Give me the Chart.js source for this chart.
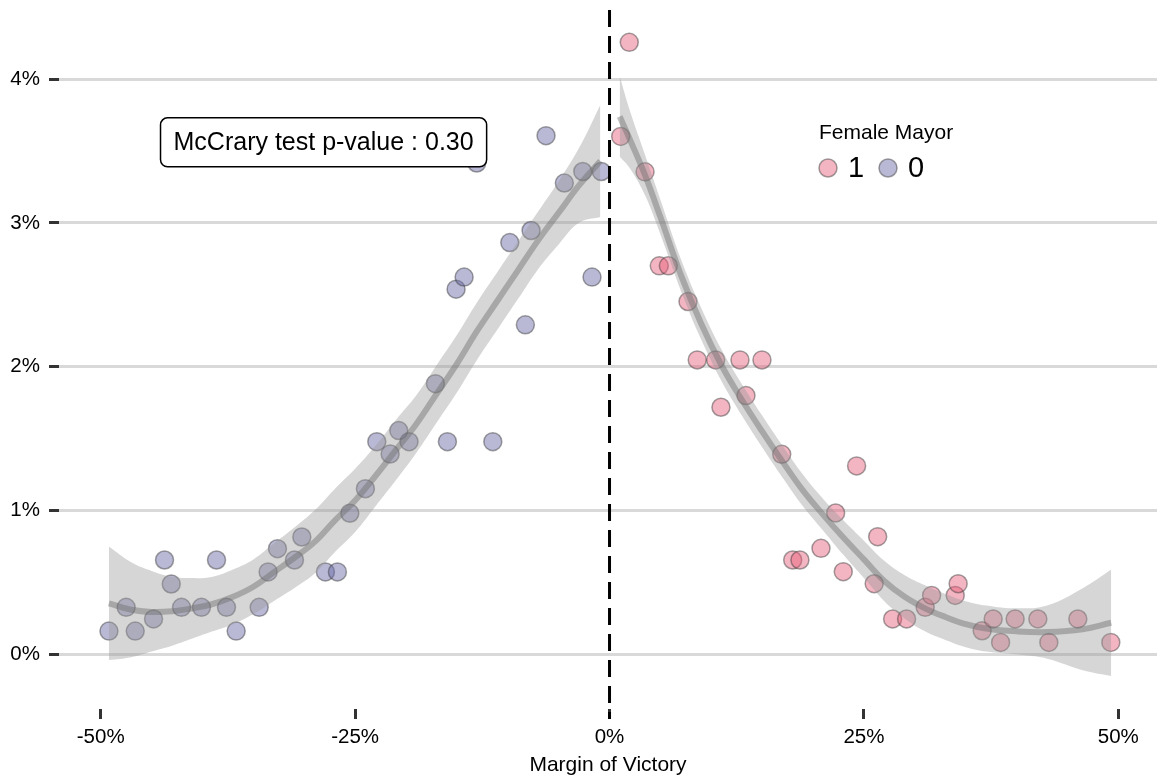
<!DOCTYPE html>
<html>
<head>
<meta charset="utf-8">
<script src="https://cdn.jsdelivr.net/npm/chart.js@4.4.1/dist/chart.umd.min.js"></script>
<style>
  html, body { margin: 0; padding: 0; background: #fff; }
  #wrap { width: 1157px; height: 780px; }
</style>
</head>
<body>
<div id="wrap"><canvas id="chart1"></canvas></div>
<script>
// Density of municipalities by margin of victory

// female mayor = 1 (right of the cutoff)
const femaleX = [1.94, 1.10, 3.49, 4.89, 5.78, 7.71, 8.62, 10.43, 12.82, 14.98, 10.95, 13.41, 16.92, 24.28, 22.22,
    26.35, 20.78, 18.00, 18.71, 22.97, 26.01, 27.82, 29.19, 31.02, 31.65, 33.97, 34.26, 36.62, 37.70, 38.43,
    39.86, 42.09, 43.17, 46.02, 49.26];
const femaleY = [4.255, 3.601, 3.355, 2.701, 2.701, 2.453, 2.047, 2.047, 2.047, 2.047, 1.718, 1.799, 1.391, 1.310, 0.983,
    0.818, 0.737, 0.656, 0.656, 0.575, 0.491, 0.246, 0.246, 0.327, 0.410, 0.410, 0.491, 0.164, 0.246, 0.083,
    0.246, 0.246, 0.083, 0.246, 0.083];

// female mayor = 0 (left of the cutoff)
const maleX = [-49.19, -47.50, -46.61, -44.81, -43.73, -43.07, -42.06, -40.10, -38.62, -37.64, -36.69, -34.43, -33.55,
    -32.63, -30.96, -30.24, -27.92, -26.74, -25.52, -23.99, -22.87, -21.56, -20.71, -19.70, -15.93, -11.47, -17.11,
    -15.08, -14.29, -8.27, -9.80, -7.71, -1.72, -6.24, -4.44, -2.63, -0.81, -13.05];
const maleY = [0.162, 0.327, 0.162, 0.246, 0.656, 0.489, 0.327, 0.327, 0.656, 0.327, 0.162, 0.327, 0.573,
    0.735, 0.656, 0.816, 0.573, 0.573, 0.981, 1.152, 1.479, 1.393, 1.556, 1.479, 1.479, 1.479, 1.882,
    2.539, 2.623, 2.291, 2.863, 2.947, 2.623, 3.606, 3.277, 3.357, 3.357, 3.416];

// smoothed fit and confidence band, left side
const fitLeftX  = [-49.2, -47, -45, -43, -41, -39, -37, -35, -33, -31, -29, -27, -25, -23, -21, -19, -17, -15, -13, -11, -9, -7, -5, -3, -0.9];
const fitLeftY  = [0.355, 0.31, 0.295, 0.30, 0.32, 0.35, 0.40, 0.47, 0.57, 0.67, 0.78, 0.93, 1.07, 1.24, 1.42, 1.60, 1.81, 2.02, 2.25, 2.46, 2.67, 2.88, 3.07, 3.26, 3.43];
const fitLeftHi = [0.75, 0.64, 0.58, 0.54, 0.53, 0.54, 0.59, 0.66, 0.77, 0.88, 1.00, 1.15, 1.29, 1.45, 1.63, 1.80, 2.01, 2.22, 2.45, 2.66, 2.87, 3.08, 3.29, 3.52, 3.82];
const fitLeftLo = [-0.04, -0.02, 0.02, 0.06, 0.11, 0.16, 0.21, 0.28, 0.37, 0.46, 0.56, 0.71, 0.85, 1.03, 1.21, 1.40, 1.61, 1.82, 2.05, 2.26, 2.47, 2.68, 2.85, 3.00, 3.04];

// smoothed fit and confidence band, right side
const fitRightX  = [1.0, 2.0, 3.5, 5, 7, 9, 11, 13, 15, 17, 19, 21, 23, 25, 27, 29, 31, 33, 35, 37, 40, 43, 46.5, 49.3];
const fitRightY  = [3.74, 3.58, 3.33, 3.04, 2.64, 2.30, 2.01, 1.77, 1.55, 1.34, 1.14, 0.97, 0.81, 0.66, 0.51, 0.40, 0.32, 0.26, 0.21, 0.18, 0.16, 0.155, 0.175, 0.22];
const fitRightHi = [4.02, 3.78, 3.47, 3.16, 2.75, 2.41, 2.12, 1.88, 1.66, 1.45, 1.25, 1.08, 0.93, 0.79, 0.65, 0.55, 0.48, 0.42, 0.37, 0.34, 0.32, 0.34, 0.46, 0.59];
const fitRightLo = [3.46, 3.38, 3.19, 2.92, 2.53, 2.19, 1.90, 1.66, 1.44, 1.23, 1.03, 0.86, 0.69, 0.53, 0.37, 0.25, 0.16, 0.10, 0.05, 0.02, 0.00, -0.03, -0.11, -0.15];

const xTicks = [-50, -25, 0, 25, 50];
const yTicks = [0, 1, 2, 3, 4];
const pValueText = 'McCrary test p-value : 0.30';

const FONT = "'Liberation Sans', Arial, sans-serif";
const pink = 'rgba(230, 90, 120, 0.45)';
const blue = 'rgba(100, 100, 165, 0.45)';
const pointEdge = 'rgba(50, 50, 50, 0.45)';
const bandFill = 'rgba(153, 153, 153, 0.4)';
const fitColor = 'rgba(110, 110, 110, 0.45)';

function pts(xs, ys) {
    return xs.map((x, i) => ({ x: x, y: ys[i] }));
}

function bandLine(xs, ys, fill) {
    return {
        type: 'line',
        data: pts(xs, ys),
        showLine: true,
        borderWidth: 0,
        borderColor: 'rgba(0,0,0,0)',
        backgroundColor: bandFill,
        pointRadius: 0,
        tension: 0.4,
        fill: fill,
        order: 2
    };
}

function fitLine(xs, ys) {
    return {
        type: 'line',
        data: pts(xs, ys),
        showLine: true,
        borderWidth: 6,
        borderColor: fitColor,
        pointRadius: 0,
        tension: 0.4,
        fill: false,
        order: 1
    };
}

// dashed cutoff, p-value box and legend
const extras = {
    id: 'extras',
    afterDatasetsDraw(chart) {
        const ctx = chart.ctx;
        const xs = chart.scales.x, ys = chart.scales.y;
        const area = chart.chartArea;

        // cutoff at 0
        const x0 = xs.getPixelForValue(0);
        ctx.save();
        ctx.strokeStyle = '#000';
        ctx.lineWidth = 3;
        ctx.setLineDash([17, 9]);
        ctx.beginPath();
        ctx.moveTo(x0, area.top);
        ctx.lineTo(x0, area.bottom + 10);
        ctx.stroke();
        ctx.restore();

        // p-value label
        const cx = xs.getPixelForValue(-28.1);
        const cy = ys.getPixelForValue(3.56);
        ctx.save();
        ctx.font = '25px ' + FONT;
        const w = ctx.measureText(pValueText).width + 26;
        const h = 49;
        const bx = cx - w / 2, by = cy - h / 2, r = 7;
        ctx.beginPath();
        ctx.moveTo(bx + r, by);
        ctx.arcTo(bx + w, by, bx + w, by + h, r);
        ctx.arcTo(bx + w, by + h, bx, by + h, r);
        ctx.arcTo(bx, by + h, bx, by, r);
        ctx.arcTo(bx, by, bx + w, by, r);
        ctx.closePath();
        ctx.fillStyle = '#fff';
        ctx.fill();
        ctx.lineWidth = 1.5;
        ctx.strokeStyle = '#000';
        ctx.stroke();
        ctx.fillStyle = '#000';
        ctx.textAlign = 'center';
        ctx.textBaseline = 'middle';
        ctx.fillText(pValueText, cx, cy + 1);
        ctx.restore();
    },
    afterDraw(chart) {
        const ctx = chart.ctx;
        ctx.save();
        ctx.fillStyle = '#000';
        ctx.font = '21px ' + FONT;
        ctx.textBaseline = 'alphabetic';
        ctx.fillText('Female Mayor', 819, 139);

        const items = [[828, pink, '1', 848], [888, blue, '0', 908]];
        items.forEach(([mx, col, txt, tx]) => {
            ctx.beginPath();
            ctx.arc(mx, 168, 9, 0, Math.PI * 2);
            ctx.fillStyle = col;
            ctx.fill();
            ctx.lineWidth = 1.5;
            ctx.strokeStyle = pointEdge;
            ctx.stroke();
            ctx.fillStyle = '#000';
            ctx.font = '29px ' + FONT;
            ctx.textBaseline = 'middle';
            ctx.fillText(txt, tx, 169);
        });
        ctx.restore();
    }
};

new Chart(document.getElementById('chart1'), {
    type: 'scatter',
    data: {
        datasets: [
            {
                label: '1',
                data: pts(femaleX, femaleY),
                backgroundColor: pink,
                borderColor: pointEdge,
                borderWidth: 1.5,
                pointRadius: 9,
                order: 3
            },
            {
                label: '0',
                data: pts(maleX, maleY),
                backgroundColor: blue,
                borderColor: pointEdge,
                borderWidth: 1.5,
                pointRadius: 9,
                order: 3
            },
            bandLine(fitLeftX, fitLeftHi, '+1'),
            bandLine(fitLeftX, fitLeftLo, false),
            bandLine(fitRightX, fitRightHi, '+1'),
            bandLine(fitRightX, fitRightLo, false),
            fitLine(fitLeftX, fitLeftY),
            fitLine(fitRightX, fitRightY)
        ]
    },
    options: {
        responsive: true,
        maintainAspectRatio: false,
        animation: false,
        layout: { autoPadding: false, padding: { top: 10, right: 0, bottom: 0, left: 0 } },
        plugins: {
            legend: { display: false },
            tooltip: { enabled: false }
        },
        scales: {
            x: {
                type: 'linear',
                min: -54.1,
                max: 53.8,
                afterBuildTicks: (axis) => { axis.ticks = xTicks.map(v => ({ value: v })); },
                afterFit: (axis) => { axis.height = 71; axis.paddingLeft = 0; axis.paddingRight = 0; },
                border: { display: false },
                grid: {
                    drawOnChartArea: false,
                    drawTicks: true,
                    tickLength: 10,
                    tickWidth: 3,
                    tickColor: '#333'
                },
                ticks: {
                    padding: 6,
                    color: '#000',
                    font: { family: FONT, size: 20.5 },
                    maxRotation: 0,
                    callback: (v) => v + '%'
                },
                title: {
                    display: true,
                    text: 'Margin of Victory',
                    color: '#000',
                    font: { family: FONT, size: 21 },
                    padding: { top: 0, bottom: 2 }
                }
            },
            y: {
                type: 'linear',
                min: -0.38,
                max: 4.48,
                afterBuildTicks: (axis) => { axis.ticks = yTicks.map(v => ({ value: v })); },
                afterFit: (axis) => { axis.width = 59; axis.paddingTop = 0; axis.paddingBottom = 0; },
                border: { display: false },
                grid: {
                    color: '#d9d9d9',
                    lineWidth: 3,
                    drawTicks: true,
                    tickLength: 10,
                    tickWidth: 3,
                    tickColor: '#333'
                },
                ticks: {
                    padding: 9,
                    color: '#000',
                    font: { family: FONT, size: 20.5 },
                    callback: (v) => v + '%'
                }
            }
        }
    },
    plugins: [extras]
});
</script>
</body>
</html>
